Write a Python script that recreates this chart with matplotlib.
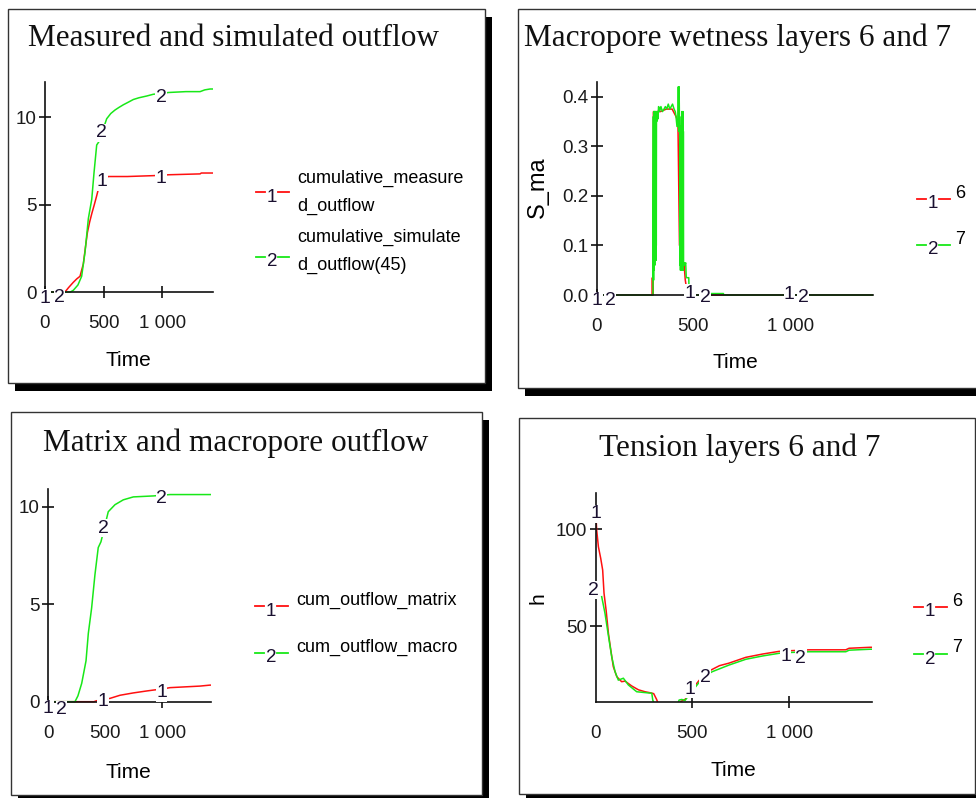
import matplotlib.pyplot as plt
from matplotlib.lines import Line2D
from matplotlib.patches import Rectangle

plt.rcParams['font.family'] = ['Liberation Sans', 'DejaVu Sans']

# ---- data ----
# measured / simulated outflow
t_meas = [0, 170, 200, 240, 270, 298, 326, 345, 361, 380, 399, 420, 440, 470, 539, 700, 922, 1050, 1320, 1330, 1430]
cum_meas = [0, 0, 0.25, 0.55, 0.75, 0.9, 1.6, 2.6, 3.4, 4.0, 4.5, 5.0, 5.5, 6.3, 6.6, 6.6, 6.65, 6.7, 6.75, 6.8, 6.8]
t_sim = [0, 215, 241, 280, 312, 341, 369, 398, 417, 440, 460, 525, 560, 596, 630, 667, 710, 752, 800, 866,
         922, 1000, 1050, 1200, 1320, 1360, 1405, 1430]
cum_sim = [0, 0, 0.1, 0.4, 0.9, 2.3, 4.2, 5.3, 6.8, 8.4, 8.6, 9.9, 10.2, 10.4, 10.55, 10.7, 10.85, 11.0, 11.1, 11.2,
           11.3, 11.35, 11.4, 11.45, 11.45, 11.55, 11.6, 11.6]

# macropore wetness, layers 6 and 7
t_sma6 = [0, 280, 286, 288, 290, 294, 298, 300, 302, 304, 308, 312, 330, 360, 390, 410, 420, 428, 430, 434,
          437, 441, 444, 446, 448, 452, 458, 470, 478, 1430]
sma6 = [0, 0, 0, 0.035, 0, 0.37, 0.08, 0.37, 0.07, 0.36, 0.35, 0.37, 0.37, 0.375, 0.375, 0.36, 0.35, 0.1, 0.34, 0.33,
        0.055, 0.18, 0.16, 0.055, 0.06, 0.06, 0.03, 0, 0, 0]
t_sma7 = [0, 291, 293, 294, 295, 296, 297, 298, 299, 300, 301, 302, 303, 304, 305, 306, 307, 308, 309, 310,
          313, 316, 320, 325, 332, 340, 348, 355, 362, 370, 378, 385, 392, 400, 406, 410, 415, 420, 422, 424,
          426, 428, 430, 431, 432, 433, 434, 435, 436, 437, 438, 439, 440, 441, 442, 443, 444, 445, 446, 447,
          448, 449, 450, 452, 455, 460, 463, 470, 476, 478, 590, 592, 655, 657, 1430]
sma7 = [0, 0, 0.36, 0.03, 0.37, 0.05, 0.36, 0.07, 0.37, 0.06, 0.37, 0.08, 0.36, 0.07, 0.37, 0.07, 0.37, 0.1, 0.36, 0.35,
        0.37, 0.355, 0.38, 0.37, 0.38, 0.37, 0.375, 0.38, 0.375, 0.385, 0.375, 0.38, 0.385, 0.375, 0.37, 0.36, 0.34, 0.34, 0.42, 0.33,
        0.42, 0.34, 0.33, 0.06, 0.34, 0.05, 0.33, 0.06, 0.33, 0.05, 0.36, 0.05, 0.37, 0.06, 0.36, 0.05, 0.34, 0.06, 0.37, 0.05,
        0.33, 0.06, 0.065, 0.065, 0.06, 0.065, 0.035, 0.035, 0.035, 0, 0, 0.003, 0.003, 0, 0]

# matrix and macropore outflow
t_matrix = [0, 400, 424, 430, 470, 541, 629, 746, 863, 927, 1000, 1067, 1330, 1418, 1430]
cum_matrix = [0, 0, 0.05, 0.05, 0.1, 0.17, 0.33, 0.45, 0.55, 0.6, 0.65, 0.72, 0.8, 0.85, 0.85]
t_macro = [0, 234, 260, 293, 331, 351, 380, 409, 438, 462, 526, 585, 658, 746, 922, 1067, 1418, 1430]
cum_macro = [0, 0, 0.3, 0.94, 2.1, 3.5, 4.8, 6.5, 7.9, 8.2, 9.74, 10.1, 10.35, 10.5, 10.55, 10.62, 10.62, 10.62]

# tension, layers 6 and 7
t_h6 = [0, 5, 14, 26, 36, 43, 54, 66, 78, 91, 109, 134, 152, 186, 221, 255, 290, 300, 315, 330,
        430, 440, 462, 480, 520, 560, 601, 640, 689, 776, 862, 948, 1000, 1104, 1200, 1293, 1310, 1418, 1430]
h6 = [110, 99.7, 91, 85, 79, 67, 58, 46, 37.6, 29, 23.8, 21.2, 21.5, 19, 17, 16, 15.3, 15, 12, 8,
      8, 11, 12, 15, 20, 25, 27.5, 29.5, 30.8, 33.8, 35.5, 36.9, 37.2, 37.7, 37.7, 37.7, 38.5, 39, 39]
t_h7 = [31, 48, 66, 83, 100, 117, 130, 143, 169, 212, 290, 295, 310, 420, 431, 445, 462, 480, 520, 560,
        603, 689, 776, 862, 948, 1000, 1104, 1293, 1310, 1418, 1430]
h7 = [65.2, 56.6, 44.8, 34, 26.4, 22, 22.5, 23, 19.5, 16, 15.2, 11.7, 8, 8, 11.7, 12, 11.5, 14, 19, 24,
      26.4, 29.8, 32.8, 34.5, 35.9, 36.3, 36.7, 36.7, 37.5, 38, 38]

# trace number labels (Mathcad style), in data coordinates
marks1 = [(0, -0.35, '1'), (122, -0.3, '2'), (483, 6.3, '1'), (483, 9.1, '2'), (990, 6.5, '1'), (990, 11.1, '2')]
marks2 = [(0, -0.012, '1'), (69, -0.012, '2'), (483, 0.004, '1'), (560, -0.004, '2'), (996, 0.002, '1'), (1068, -0.004, '2')]
marks3 = [(0, -0.35, '1'), (117, -0.4, '2'), (482, 0.0, '1'), (482, 8.9, '2'), (994, 0.45, '1'), (994, 10.4, '2')]
marks4 = [(0, 108, '1'), (-10, 68.5, '2'), (488, 17.4, '1'), (565, 23.4, '2'), (982, 34.3, '1'), (1060, 33.3, '2')]

RED = '#ff1010'
GREEN = '#18e818'
W, H = 976, 798

fig = plt.figure(figsize=(W / 100, H / 100), dpi=100)


def px_axes(left, top, right, bottom):
    return fig.add_axes([left / W, 1 - bottom / H, (right - left) / W, (bottom - top) / H])


def ftext(x, y, s, **kw):
    fig.text(x / W, 1 - y / H, s, **kw)


def frame(l, t, r, b, dx=7, dy=8):
    fig.add_artist(Rectangle(((l + dx) / W, 1 - (b + dy) / H), (r - l) / W, (b - t) / H,
                             transform=fig.transFigure, facecolor='black', edgecolor='none', zorder=-3))
    fig.add_artist(Rectangle((l / W, 1 - b / H), (r - l) / W, (b - t) / H,
                             transform=fig.transFigure, facecolor='white', edgecolor='#333333', lw=1.0, zorder=-2))


def legend_entry(x, y, num, color, dy_num=5):
    for a, b in [(x, x + 9), (x + 22, x + 33)]:
        fig.add_artist(Line2D([a / W, b / W], [1 - y / H, 1 - y / H], transform=fig.transFigure,
                              color=color, lw=1.3))
    ftext(x + 16, y + dy_num, num, ha='center', va='center', fontsize=13.5, color='#1a1030')


def style_axes(ax, xlim, ylim, yticks, ylabels, xzero=True):
    ax.patch.set_visible(False)
    ax.set_xlim(*xlim)
    ax.set_ylim(*ylim)
    for s in ['top', 'right']:
        ax.spines[s].set_visible(False)
    if xzero:
        ax.spines['bottom'].set_position(('data', 0))
    for s in ['left', 'bottom']:
        ax.spines[s].set_linewidth(1.2)
        ax.spines[s].set_color('#111111')
    ax.set_xticks([0, 500, 1000])
    ax.set_xticklabels(['0', '500', '1 000'])
    ax.set_yticks(yticks)
    ax.set_yticklabels(ylabels)
    ax.tick_params(axis='both', direction='inout', length=9, width=1.2, color='#111111',
                   labelsize=13.5, labelcolor='#1a1a1a')
    ax.tick_params(axis='x', pad=12)
    ax.tick_params(axis='y', pad=1.5)


def trace_marks(ax, marks):
    for x, y, s in marks:
        ax.text(x, y, s, ha='center', va='center', fontsize=14, color='#1a1030', clip_on=False, zorder=4,
                bbox=dict(facecolor='white', edgecolor='none', pad=0.3))


# ---- frames ----
frame(8, 9, 485, 383)
frame(518, 9, 985, 388)
frame(11, 412, 482, 795)
frame(519, 418, 975, 794)

serif = dict(family=['Liberation Serif', 'DejaVu Serif'], fontsize=22.5, ha='center', va='center', color='#111111')
ftext(234, 38, 'Measured and simulated outflow', **serif)
ftext(737, 38, 'Macropore wetness layers 6 and 7', **serif)
ftext(236, 443, 'Matrix and macropore outflow', **serif)
ftext(740, 448, 'Tension layers 6 and 7', **serif)

# ---- panel 1 ----
ax1 = px_axes(45, 82, 213, 304.3)
ax1.plot(t_meas, cum_meas, color=RED, lw=1.1)
ax1.plot(t_sim, cum_sim, color=GREEN, lw=1.1)
style_axes(ax1, (0, 1430), (-0.7, 12.0), [0, 5, 10], ['0', '5', '10'])
trace_marks(ax1, marks1)
ftext(128, 360, 'Time', fontsize=15, ha='center', va='center')
legend_entry(256, 192, '1', RED)
legend_entry(256, 257, '2', GREEN)
ftext(297, 178, 'cumulative_measure', fontsize=13, va='center')
ftext(297, 206, 'd_outflow', fontsize=13, va='center')
ftext(297, 237, 'cumulative_simulate', fontsize=13, va='center')
ftext(297, 265, 'd_outflow(45)', fontsize=13, va='center')

# ---- panel 2 ----
ax2 = px_axes(596.7, 81.8, 873.3, 300)
ax2.plot(t_sma6, sma6, color=RED, lw=1.1)
ax2.plot(t_sma7, sma7, color=GREEN, lw=1.1)
style_axes(ax2, (0, 1430), (-0.01, 0.43), [0, 0.1, 0.2, 0.3, 0.4], ['0.0', '0.1', '0.2', '0.3', '0.4'])
trace_marks(ax2, marks2)
ftext(735, 363, 'Time', fontsize=15, ha='center', va='center')
ftext(538, 187, 'S_ma', fontsize=17, ha='center', va='center', rotation=90)
legend_entry(917, 199, '1', RED)
legend_entry(917, 245, '2', GREEN)
ftext(960, 193, '6', fontsize=13, ha='center', va='center')
ftext(960, 239, '7', fontsize=13, ha='center', va='center')

# ---- panel 3 ----
ax3 = px_axes(48.3, 489.1, 211.3, 713.4)
ax3.plot(t_matrix, cum_matrix, color=RED, lw=1.1)
ax3.plot(t_macro, cum_macro, color=GREEN, lw=1.1)
style_axes(ax3, (0, 1430), (-0.6, 10.9), [0, 5, 10], ['0', '5', '10'])
trace_marks(ax3, marks3)
ftext(128, 772, 'Time', fontsize=15, ha='center', va='center')
legend_entry(255, 606, '1', RED)
legend_entry(255, 653, '2', GREEN)
ftext(296, 600, 'cum_outflow_matrix', fontsize=13, va='center')
ftext(296, 647, 'cum_outflow_macro', fontsize=13, va='center')

# ---- panel 4 ----
ax4 = px_axes(595.7, 492.7, 872.3, 701.6)
ax4.plot(t_h6, h6, color=RED, lw=1.1)
ax4.plot(t_h7, h7, color=GREEN, lw=1.1)
style_axes(ax4, (0, 1430), (10.9, 119), [50, 100], ['50', '100'], xzero=False)
ax4.xaxis.get_major_ticks()[0].tick1line.set_visible(False)
trace_marks(ax4, marks4)
ftext(733, 770, 'Time', fontsize=15, ha='center', va='center')
ftext(538, 598, 'h', fontsize=15, ha='center', va='center', rotation=90)
legend_entry(914, 607, '1', RED)
legend_entry(914, 654, '2', GREEN)
ftext(957, 601, '6', fontsize=13, ha='center', va='center')
ftext(957, 648, '7', fontsize=13, ha='center', va='center')

fig.savefig('out.png', dpi=100)
